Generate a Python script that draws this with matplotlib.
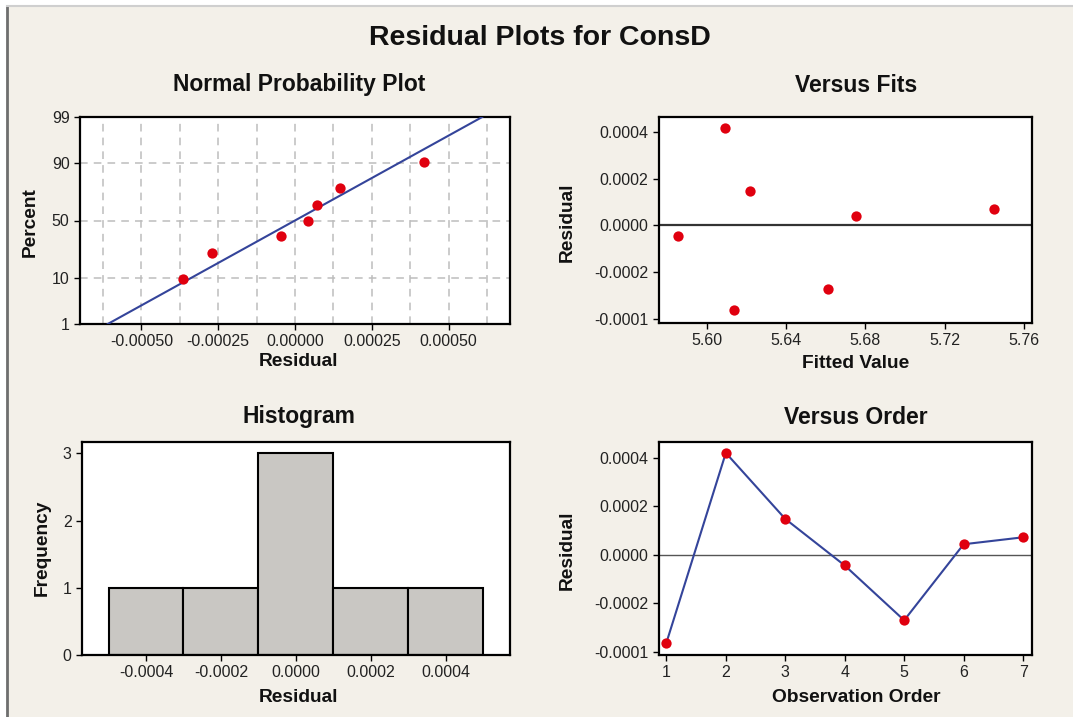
import matplotlib
matplotlib.use('Agg')
import matplotlib.pyplot as plt
from matplotlib.patches import Rectangle
from matplotlib.lines import Line2D
from statistics import NormalDist
import numpy as np

plt.rcParams['font.family'] = ['Liberation Sans', 'DejaVu Sans']
plt.rcParams['axes.unicode_minus'] = False

# data
order = [1, 2, 3, 4, 5, 6, 7]
residuals = [-0.000364, 0.000419, 0.000147, -0.000045, -0.000271, 0.0000425, 0.0000712]
fits = [5.6138, 5.6093, 5.6221, 5.5857, 5.661, 5.6751, 5.7448]
npp_percent = [9.5, 23.0, 36.5, 50.0, 63.5, 77.0, 90.5]
hist_bins = [-0.0005, -0.0003, -0.0001, 0.0001, 0.0003, 0.0005]

npp_ticks = [1, 10, 50, 90, 99]
res_ticks = [-0.0004, -0.0002, 0.0, 0.0002, 0.0004]
res_labels = ['-0.0001', '-0.0002', '0.0000', '0.0002', '0.0004']
fit_ticks = [5.60, 5.64, 5.68, 5.72, 5.76]

W, H = 1073, 717
bg = '#f3f0e9'
red = '#e0000f'
blue = '#34449a'

fig = plt.figure(figsize=(W / 100, H / 100), dpi=100, facecolor='white')
fig.patches.append(Rectangle((7 / W, 0), 1 - 7 / W, 1 - 6 / H, transform=fig.transFigure,
                             facecolor=bg, edgecolor='none', zorder=-5))
fig.lines.append(Line2D([7 / W, 7 / W], [0, 1 - 6 / H], transform=fig.transFigure,
                        color='#6e6e6e', lw=2))
fig.lines.append(Line2D([7 / W, 1], [1 - 6 / H, 1 - 6 / H], transform=fig.transFigure,
                        color='#cfcfcf', lw=1.5))


def box(l, t, r, b):
    return fig.add_axes([l / W, 1 - b / H, (r - l) / W, (b - t) / H])


def style(ax):
    for s in ax.spines.values():
        s.set_linewidth(1.6)
        s.set_color('black')
    ax.tick_params(direction='out', length=4, width=1, labelsize=11.5, colors='black',
                   labelcolor='#222222')


def ftext(x, y, s, size, rot=0):
    fig.text(x / W, 1 - y / H, s, ha='center', va='center', fontsize=size,
             fontweight='bold', rotation=rot, color='#111111')


ftext(540, 38, 'Residual Plots for ConsD', 20.5)

# Normal probability plot
ax1 = box(80, 117, 510, 324)
style(ax1)
nd = NormalDist()
z_pts = [nd.inv_cdf(p / 100) for p in npp_percent]
mu, sd = np.mean(residuals), np.std(residuals, ddof=1)
zl = np.array([nd.inv_cdf(0.01), nd.inv_cdf(0.99)])
ax1.plot(mu + sd * zl, zl, color=blue, lw=1.5, zorder=3)
ax1.scatter(np.sort(residuals), z_pts, s=55, color=red, zorder=4, linewidths=0)
ax1.set_xlim(-0.0007, 0.0007)
ax1.set_ylim(zl[0], zl[1])
ax1.set_xticks([-0.0005, -0.00025, 0.0, 0.00025, 0.0005])
ax1.set_xticklabels(['%.5f' % v for v in [-0.0005, -0.00025, 0.0, 0.00025, 0.0005]])
ax1.set_xticks(np.arange(-0.000625, 0.0007, 0.00025), minor=True)
ax1.set_yticks([nd.inv_cdf(p / 100) for p in npp_ticks])
ax1.set_yticklabels([str(p) for p in npp_ticks])
ax1.tick_params(which='minor', length=0)
ax1.grid(True, which='both', ls=(0, (5, 4)), color='#bdbdbd', lw=1.1)
ax1.set_axisbelow(True)
ftext(299, 85, 'Normal Probability Plot', 16.5)
ftext(299, 362, 'Residual', 13.8)
ftext(30, 222, 'Percent', 13.8, 90)

# Versus fits
ax2 = box(659, 117, 1032, 323)
style(ax2)
ax2.axhline(0, color='#333333', lw=1.6)
ax2.scatter(fits, residuals, s=55, color=red, zorder=4, linewidths=0)
ax2.set_xlim(5.576, 5.764)
ax2.set_ylim(-0.000419, 0.000466)
ax2.set_xticks(fit_ticks)
ax2.set_xticklabels(['%.2f' % v for v in fit_ticks])
ax2.set_yticks(res_ticks)
ax2.set_yticklabels(res_labels)
ftext(856, 85, 'Versus Fits', 16.5)
ftext(856, 364, 'Fitted Value', 13.8)
ftext(567, 222, 'Residual', 13.8, 90)

# Histogram
ax3 = box(82, 442, 510, 655)
style(ax3)
ax3.hist(residuals, bins=hist_bins, color='#c9c7c3', edgecolor='black', linewidth=1.5)
ax3.set_xlim(-0.000571, 0.000572)
ax3.set_ylim(0, 3.17)
ax3.set_xticks(res_ticks)
ax3.set_xticklabels(['%.4f' % v for v in res_ticks])
ax3.set_yticks([0, 1, 2, 3])
ftext(299, 417, 'Histogram', 16.5)
ftext(299, 697, 'Residual', 13.8)
ftext(42, 548, 'Frequency', 13.8, 90)

# Versus order
ax4 = box(659, 442, 1032, 655)
style(ax4)
ax4.axhline(0, color='#555555', lw=1)
ax4.plot(order, residuals, color=blue, lw=1.5, zorder=3)
ax4.scatter(order, residuals, s=55, color=red, zorder=4, linewidths=0)
ax4.set_xlim(0.876, 7.15)
ax4.set_ylim(-0.000414, 0.000464)
ax4.set_xticks(order)
ax4.set_yticks(res_ticks)
ax4.set_yticklabels(res_labels)
ftext(856, 417, 'Versus Order', 16.5)
ftext(856, 697, 'Observation Order', 13.8)
ftext(567, 550, 'Residual', 13.8, 90)

fig.savefig('out.png', dpi=100, facecolor=fig.get_facecolor())
